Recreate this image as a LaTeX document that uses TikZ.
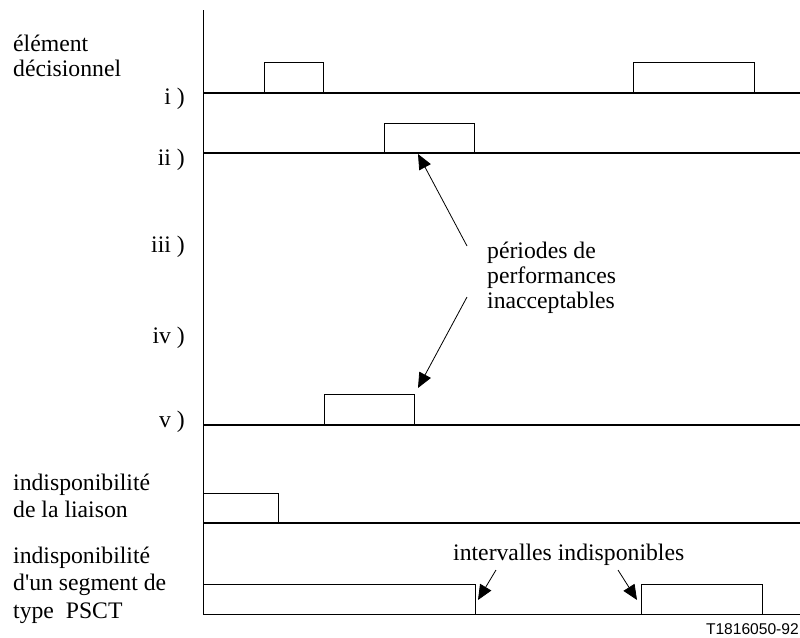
\documentclass[tikz,border=0pt]{standalone}
\usepackage{fontspec}
\setmainfont{Liberation Serif}[Ligatures=TeXOff]
\newfontfamily\figsans{Liberation Sans}
\usepackage{tikz}
\usetikzlibrary{arrows.meta}

\begin{document}
\begin{tikzpicture}[x=1pt,y=-1pt]
	 \tikzstyle{txt}=[inner sep=0pt,font=\fontsize{23.7}{26}\selectfont]
	 \tikzstyle{rowname}=[txt,anchor=base east]
	 \tikzstyle{legend}=[txt,anchor=base west,align=left]
	 \tikzstyle{timeline}=[draw,line width=1.8pt,black]
	 \tikzstyle{pulse}=[draw,line width=0.8pt,black]
	 \tikzstyle{pointer}=[draw,line width=0.8pt,black,-{Triangle[length=15pt,width=13pt]}]
	 \useasboundingbox (0,0) rectangle (800,637);
	 % time axis
	 \draw[line width=1pt] (203,10) -- (203,614);
	 % row names (base = last line)
	 \node[legend,font=\fontsize{23.7}{25}\selectfont] (elem) at (13,76) {élément\\décisionnel};
	 \node[rowname] (r1) at (185,104) {i )};
	 \node[rowname] (r2) at (185,165) {ii )};
	 \node[rowname] (r3) at (185,252) {iii )};
	 \node[rowname] (r4) at (185,343) {iv )};
	 \node[rowname] (r5) at (185,427) {v )};
	 \node[legend,font=\fontsize{23.7}{27}\selectfont] (liai) at (13,517) {indisponibilité\\de la liaison};
	 \node[legend,font=\fontsize{23.7}{27.5}\selectfont] (pset) at (13,618) {indisponibilité\\d'un segment de\\type~ PSCT};
	 % time lines
	 \draw[timeline] (203,93) -- (800,93);
	 \draw[timeline] (203,153) -- (800,153);
	 \draw[timeline] (203,425) -- (800,425);
	 \draw[timeline] (203,523) -- (800,523);
	 \draw[pulse] (203,614) -- (800,614);
	 % periods
	 \draw[pulse] (264,93) -- (264,62) -- (323,62) -- (323,93);
	 \draw[pulse] (633,93) -- (633,62) -- (754,62) -- (754,93);
	 \draw[pulse] (384,153) -- (384,123) -- (474,123) -- (474,153);
	 \draw[pulse] (324,425) -- (324,394) -- (414,394) -- (414,425);
	 \draw[pulse] (203,493) -- (278,493) -- (278,523);
	 \draw[pulse] (203,584) -- (475,584) -- (475,614);
	 \draw[pulse] (641,614) -- (641,584) -- (762,584) -- (762,614);
	 % notes
	 \node[legend,font=\fontsize{23.7}{25}\selectfont] (perf) at (487,308) {périodes de\\performances\\inacceptables};
	 \node[legend] (indisp) at (453,560) {intervalles indisponibles};
	 \coordinate (up) at (467,246);
	 \coordinate (down) at (467,297);
	 \coordinate (hitii) at (418,154);
	 \coordinate (hitv) at (418,388);
	 \coordinate (lfoot) at (496,570);
	 \coordinate (rfoot) at (618,570);
	 \coordinate (lhit) at (478,600);
	 \coordinate (rhit) at (637,600);
	 \draw[pointer] (up) -- (hitii);
	 \draw[pointer] (down) -- (hitv);
	 \draw[pointer] (lfoot) -- (lhit);
	 \draw[pointer] (rfoot) -- (rhit);
	 \node[inner sep=0pt,anchor=base east,font=\figsans\fontsize{15.6}{18}\selectfont] (ref) at (799,634) {T1816050-92};
\end{tikzpicture}
\end{document}
